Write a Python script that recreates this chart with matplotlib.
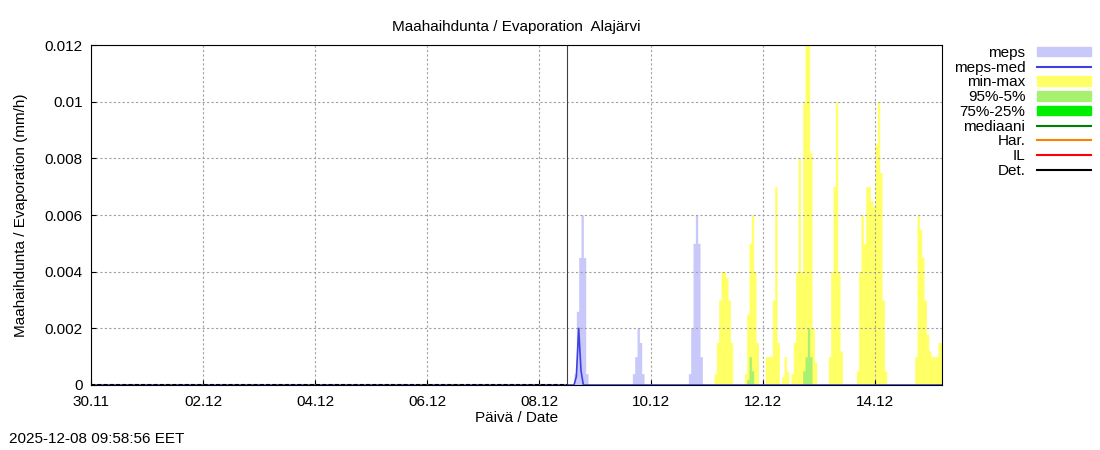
import numpy as np
import matplotlib.pyplot as plt
from matplotlib.patches import Patch
from matplotlib.lines import Line2D

plt.rcParams['font.family'] = ['Liberation Sans', 'DejaVu Sans']

# hours since 30.11 00:00, values mm/h per hour
hours_total = 365
forecast_start = 204

meps_peaks = [
    (207, [0.0004, 0.0026, 0.0045, 0.006, 0.0045, 0.0004]),
    (232, [0.0004, 0.001, 0.002, 0.0015, 0.0004]),
    (256, [0.0004, 0.002, 0.005, 0.006, 0.005, 0.001]),
]
meps_med_peaks = [
    (208, [0.0003, 0.002, 0.0005]),
]
minmax_peaks = [
    (267, [0.0004, 0.0015, 0.003, 0.004, 0.004, 0.0038, 0.003, 0.0015]),
    (280, [0.0004, 0.0025, 0.005, 0.006, 0.004, 0.0015]),
    (289, [0.001, 0.001, 0.001, 0.003, 0.007, 0.0015]),
    (296, [0.0003, 0.001, 0.0005]),
    (300, [0.0004, 0.0015, 0.004, 0.008, 0.004, 0.01, 0.012, 0.012, 0.0082, 0.002, 0.0008]),
    (316, [0.001, 0.004, 0.007, 0.010, 0.004, 0.0012]),
    (328, [0.0005, 0.004, 0.006, 0.005, 0.007, 0.007, 0.0065, 0.0063, 0.0085, 0.010, 0.0075, 0.003, 0.0005]),
    (353, [0.001, 0.006, 0.0055, 0.0045, 0.003, 0.0018, 0.0012, 0.001, 0.001, 0.001, 0.0015, 0.0015]),
]
p95_peaks = [
    (281, [0.0002, 0.001, 0.0005]),
    (305, [0.0005, 0.001, 0.002, 0.001]),
]
tick_days = [0, 2, 4, 6, 8, 10, 12, 14]
tick_labels = ["30.11", "02.12", "04.12", "06.12", "08.12", "10.12", "12.12", "14.12"]


def series(peaks):
    s = np.zeros(hours_total + 1)
    for start, vals in peaks:
        s[start:start + len(vals)] = vals
    return s


t = np.arange(hours_total + 1) / 24.0
fig = plt.figure(figsize=(11, 4.5), dpi=100)
ax = fig.add_axes([91 / 1100, 65 / 450, 851 / 1100, 340 / 450])

ax.fill_between(t, series(meps_peaks), step='post', color='#c8c8fa', lw=0)
ax.fill_between(t, series(minmax_peaks), step='post', color='#ffff66', lw=0)
ax.fill_between(t, series(p95_peaks), step='post', color='#a8f070', lw=0)
ax.plot(t, series(meps_med_peaks), color='#4040e0', lw=1.2)
ax.plot([0, forecast_start / 24], [0, 0], color='black', lw=1.5, ls=(0, (2, 1)))
ax.axvline(forecast_start / 24, color='#404040', lw=0.8)

ax.set_xlim(0, 364.7 / 24)
ax.set_ylim(0, 0.012)
ax.set_xticks(tick_days)
ax.set_xticklabels(tick_labels)
ax.set_yticks([0, 0.002, 0.004, 0.006, 0.008, 0.01, 0.012])
ax.set_yticklabels(["0", "0.002", "0.004", "0.006", "0.008", "0.01", "0.012"])
ax.tick_params(labelsize=11, direction='in')
ax.tick_params(axis='x', pad=7)
ax.tick_params(axis='y', pad=6)
ax.grid(True, color='#a0a0a0', ls=(0, (2, 2)), lw=0.8)
ax.set_title("Maahaihdunta / Evaporation  Alajärvi", fontsize=11, pad=10)
ax.set_xlabel("Päivä / Date", fontsize=11, labelpad=2)
ax.set_ylabel("Maahaihdunta / Evaporation (mm/h)", fontsize=11, labelpad=12)

handles = [
    Patch(color='#c8c8fa'),
    Line2D([], [], color='#4040e0'),
    Patch(color='#ffff66'),
    Patch(color='#a8f070'),
    Patch(color='#00ee00'),
    Line2D([], [], color='#008000'),
    Line2D([], [], color='#ff8000'),
    Line2D([], [], color='#ff0000'),
    Line2D([], [], color='black'),
]
labels = ["meps", "meps-med", "min-max", "95%-5%", "75%-25%", "mediaani", "Har.", "IL", "Det."]
leg = fig.legend(handles, labels, loc='upper left', bbox_to_anchor=(0.86, 0.915),
                 frameon=False, fontsize=11, markerfirst=False, handlelength=3.5,
                 labelspacing=0.05, handleheight=0.6, borderpad=0)
for txt in leg.get_texts():
    txt.set_ha('right')
fig.text(0.008, 0.015, "2025-12-08 09:58:56 EET", fontsize=11)

fig.savefig("out.png")
